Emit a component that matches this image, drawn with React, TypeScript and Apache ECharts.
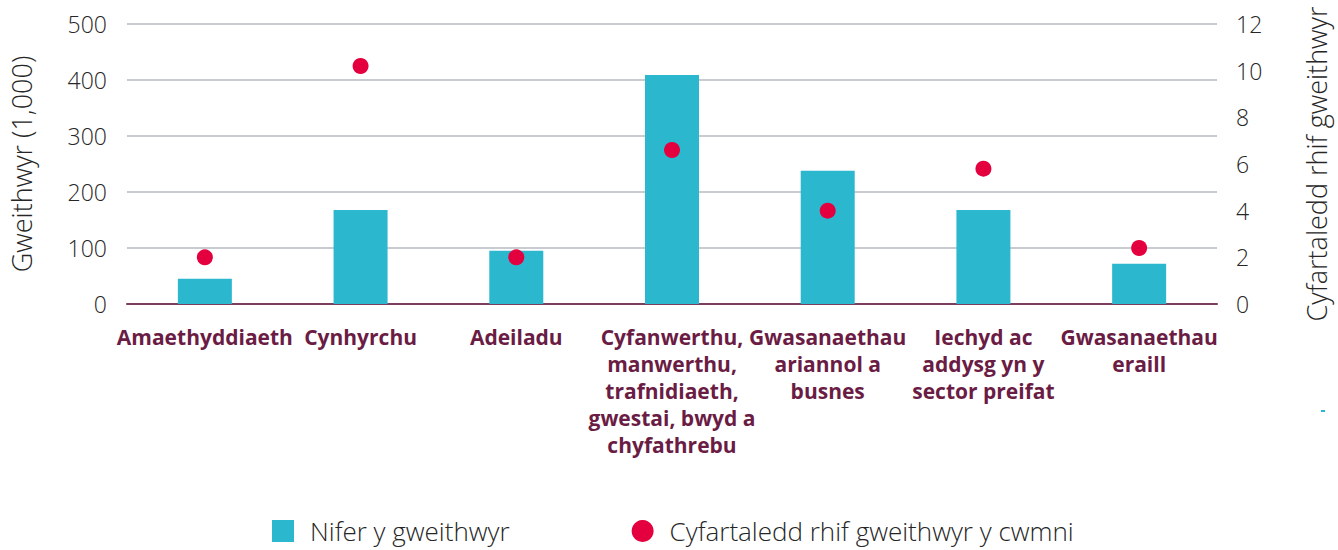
import React, { useEffect, useRef } from "react";
import * as echarts from "echarts";

const categories = [
  "Amaethyddiaeth",
  "Cynhyrchu",
  "Adeiladu",
  "Cyfanwerthu,\nmanwerthu,\ntrafnidiaeth,\ngwestai, bwyd a\nchyfathrebu",
  "Gwasanaethau\nariannol a\nbusnes",
  "Iechyd ac\naddysg yn y\nsector preifat",
  "Gwasanaethau\neraill",
];
const workers = [45, 168, 95, 409, 238, 168, 72];
const avgCompanySize = [2.0, 10.2, 2.0, 6.6, 4.0, 5.8, 2.4];
const leftTicks = { min: 0, max: 500, interval: 100 };
const rightTicks = { min: 0, max: 12, interval: 2 };
const seriesNames = ["Nifer y gweithwyr", "Cyfartaledd rhif gweithwyr y cwmni"];

const TEAL = "#2bb8cf";
const RED = "#e4003f";
const MAROON = "#6a1c44";
const TXT = "#262626";
const FONT = "'Open Sans', 'Noto Sans', sans-serif";

export default function App() {
  const ref = useRef<HTMLDivElement>(null);
  useEffect(() => {
    if (!ref.current) return;
    const chart = echarts.init(ref.current, undefined, { renderer: "svg" });
    chart.setOption({
      animation: false,
      textStyle: { fontFamily: FONT },
      grid: { left: 120, right: 112, top: 24, bottom: 246 },
      legend: {
        left: 267,
        top: 513,
        itemWidth: 22,
        itemHeight: 22,
        itemGap: 122,
        textStyle: {
          fontSize: 26,
          fontWeight: 300,
          color: TXT,
          fontFamily: FONT,
          padding: [0, 0, 0, 11],
        },
        data: [
          { name: seriesNames[0], icon: "rect" },
          { name: seriesNames[1], icon: "circle" },
        ],
      },
      xAxis: {
        type: "category",
        data: categories,
        axisTick: { show: false },
        axisLine: { show: true, lineStyle: { color: "#7d3f60", width: 2 } },
        axisLabel: {
          interval: 0,
          margin: 19,
          fontSize: 21,
          fontWeight: "bold",
          color: MAROON,
          lineHeight: 27,
          fontFamily: FONT,
        },
      },
      yAxis: [
        {
          type: "value",
          ...leftTicks,
          name: "Gweithwyr (1,000)",
          nameLocation: "middle",
          nameGap: 92,
          nameRotate: 90,
          nameTextStyle: { fontSize: 27, fontWeight: 300, color: TXT, fontFamily: FONT },
          axisLine: { show: false },
          axisTick: { show: false },
          axisLabel: { fontSize: 23, fontWeight: 300, color: TXT, margin: 20, fontFamily: FONT },
          splitLine: { show: true, lineStyle: { color: "#c8cbd0", width: 2 } },
        },
        {
          type: "value",
          ...rightTicks,
          name: "Cyfartaledd rhif gweithwyr",
          nameLocation: "middle",
          nameGap: 86,
          nameRotate: 90,
          nameTextStyle: { fontSize: 27, fontWeight: 300, color: TXT, fontFamily: FONT },
          axisLine: { show: false },
          axisTick: { show: false },
          axisLabel: { fontSize: 23, fontWeight: 300, color: TXT, margin: 19, fontFamily: FONT },
          splitLine: { show: false },
        },
      ],
      series: [
        {
          name: seriesNames[0],
          type: "bar",
          data: workers,
          barWidth: 54,
          itemStyle: { color: TEAL },
          yAxisIndex: 0,
        },
        {
          name: seriesNames[1],
          type: "scatter",
          data: avgCompanySize,
          yAxisIndex: 1,
          symbol: "circle",
          symbolSize: 16,
          itemStyle: { color: RED, opacity: 1 },
          z: 5,
        },
      ],
      graphic: [
        { type: "rect", left: 1321, top: 410, shape: { width: 4, height: 2 }, style: { fill: TEAL } },
      ],
    });
    return () => chart.dispose();
  }, []);
  return (
    <div
      ref={ref}
      style={{ position: "fixed", left: 0, top: 0, width: 1338, height: 550, background: "#fff" }}
    />
  );
}
